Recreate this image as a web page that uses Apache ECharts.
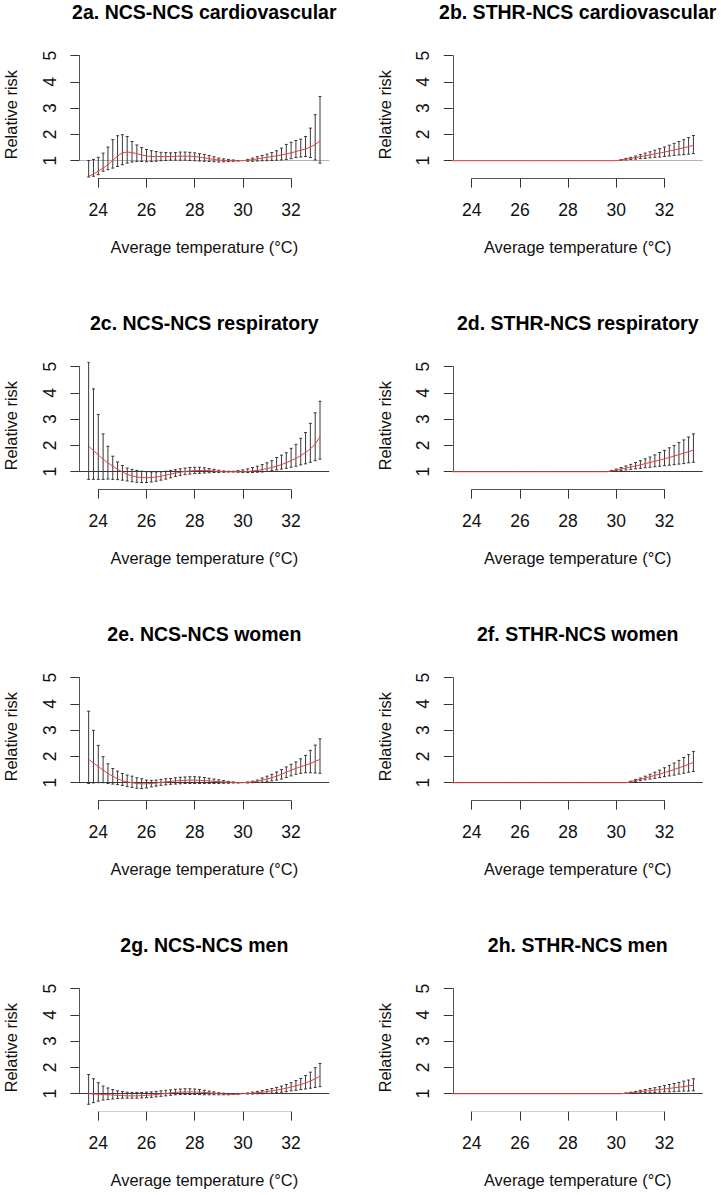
<!DOCTYPE html>
<html>
<head>
<meta charset="utf-8">
<script src="https://cdn.jsdelivr.net/npm/echarts@6/dist/echarts.min.js"></script>
<style>
html,body{margin:0;padding:0;background:#fff;}
#chart{width:721px;height:1195px;}
</style>
</head>
<body>
<div id="chart"></div>
<script>
// Temperatures (°C) at which the relative risks were evaluated
const temps = [23.2,23.4,23.6,23.8,24.0,24.2,24.4,24.6,24.8,25.0,25.2,25.4,25.6,25.8,26.0,26.2,26.4,26.6,26.8,27.0,27.2,27.4,27.6,27.8,28.0,28.2,28.4,28.6,28.8,29.0,29.2,29.4,29.6,29.8,30.0,30.2,30.4,30.6,30.8,31.0,31.2,31.4,31.6,31.8,32.0,32.2,32.4,32.6,32.8,33.0,33.2];
const xTicks = [24, 26, 28, 30, 32];
const yTicks = [1, 2, 3, 4, 5];

// 2a NCS-NCS cardiovascular
const est2a = [null,null,
 0.40,0.50,0.60,0.72,0.85,1.02,1.18,1.30,1.33,1.31,
 1.27,1.22,1.18,1.16,1.16,1.16,1.16,1.16,1.17,1.17,
 1.17,1.17,1.16,1.14,1.11,1.08,1.05,1.03,1.01,1.00,
 1.00,1.00,1.00,1.02,1.04,1.07,1.10,1.13,1.16,1.19,
 1.22,1.26,1.30,1.35,1.40,1.45,1.52,1.62,1.75];
const hi2a = [null,null,
 1.01,1.05,1.13,1.29,1.52,1.80,1.95,1.99,1.92,1.73,
 1.60,1.50,1.43,1.38,1.35,1.32,1.31,1.30,1.31,1.33,
 1.33,1.32,1.30,1.27,1.24,1.20,1.15,1.10,1.07,1.05,
 1.03,1.01,1.00,1.05,1.10,1.15,1.20,1.25,1.31,1.38,
 1.48,1.62,1.70,1.77,1.82,1.92,2.24,2.75,3.44];
const lo2a = [null,null,
 0.38,0.41,0.47,0.60,0.66,0.72,0.78,0.85,0.91,0.95,
 0.97,0.97,0.96,0.97,0.98,1.00,1.01,1.02,1.02,1.02,
 1.02,1.01,1.00,0.99,0.98,0.97,0.96,0.95,0.96,0.97,
 0.98,0.99,1.00,0.98,0.98,0.99,1.00,1.00,1.01,1.02,
 1.03,1.05,1.08,1.12,1.14,1.16,1.12,1.03,0.91];

// 2b STHR-NCS cardiovascular
const est2b = [1,1,1,1,1,1,1,1,1,1,1,1,1,1,1,1,1,1,1,1,1,1,1,1,1,1,1,1,1,1,1,1,1,1,1,
 1.03,1.06,1.09,1.12,1.15,1.19,1.22,1.26,1.29,1.33,1.37,1.41,1.45,1.49,1.54,1.58];
const hi2b = [1,1,1,1,1,1,1,1,1,1,1,1,1,1,1,1,1,1,1,1,1,1,1,1,1,1,1,1,1,1,1,1,1,1,1,
 1.04,1.09,1.13,1.18,1.23,1.29,1.34,1.40,1.46,1.52,1.59,1.66,1.73,1.80,1.88,1.96];
const lo2b = [1,1,1,1,1,1,1,1,1,1,1,1,1,1,1,1,1,1,1,1,1,1,1,1,1,1,1,1,1,1,1,1,1,1,1,
 1.02,1.03,1.05,1.06,1.08,1.09,1.11,1.13,1.14,1.16,1.18,1.20,1.22,1.23,1.25,1.27];

// 2c NCS-NCS respiratory
const est2c = [null,null,
 1.97,1.80,1.64,1.48,1.34,1.21,1.09,0.99,0.90,0.84,
 0.80,0.78,0.77,0.78,0.80,0.83,0.87,0.91,0.95,0.98,
 1.01,1.03,1.04,1.05,1.05,1.04,1.03,1.01,1.00,1.00,
 1.00,1.00,1.00,1.01,1.03,1.05,1.08,1.12,1.16,1.21,
 1.27,1.34,1.42,1.51,1.61,1.73,1.87,2.05,2.33];
const hi2c = [null,null,
 5.17,4.15,3.18,2.44,1.97,1.59,1.37,1.24,1.14,1.09,
 1.05,1.02,1.00,0.99,0.99,1.00,1.02,1.05,1.08,1.11,
 1.14,1.16,1.17,1.17,1.15,1.12,1.09,1.06,1.03,1.02,
 1.02,1.04,1.07,1.11,1.16,1.21,1.27,1.34,1.42,1.54,
 1.63,1.72,1.89,2.04,2.27,2.49,2.84,3.24,3.68];
const lo2c = [null,null,
 0.71,0.71,0.71,0.71,0.72,0.71,0.70,0.68,0.65,0.62,
 0.60,0.59,0.59,0.61,0.64,0.68,0.72,0.77,0.82,0.86,
 0.89,0.91,0.93,0.94,0.95,0.96,0.97,0.97,0.98,0.99,
 0.99,0.98,0.97,0.97,0.97,0.98,0.99,1.01,1.04,1.07,
 1.10,1.13,1.17,1.21,1.26,1.30,1.36,1.42,1.48];

// 2d STHR-NCS respiratory
const est2d = [1,1,1,1,1,1,1,1,1,1,1,1,1,1,1,1,1,1,1,1,1,1,1,1,1,1,1,1,1,1,1,1,1,
 1.03,1.07,1.11,1.14,1.18,1.22,1.26,1.31,1.35,1.40,1.44,1.49,1.54,1.60,1.65,1.71,1.76,1.82];
const hi2d = [1,1,1,1,1,1,1,1,1,1,1,1,1,1,1,1,1,1,1,1,1,1,1,1,1,1,1,1,1,1,1,1,1,
 1.05,1.10,1.16,1.22,1.28,1.35,1.42,1.49,1.56,1.64,1.73,1.81,1.91,2.00,2.11,2.21,2.32,2.44];
const lo2d = [1,1,1,1,1,1,1,1,1,1,1,1,1,1,1,1,1,1,1,1,1,1,1,1,1,1,1,1,1,1,1,1,1,
 1.02,1.04,1.05,1.07,1.09,1.11,1.13,1.15,1.17,1.19,1.21,1.23,1.25,1.27,1.29,1.31,1.34,1.36];

// 2e NCS-NCS women
const est2e = [null,null,
 1.89,1.75,1.61,1.48,1.35,1.25,1.15,1.08,1.03,1.00,
 0.97,0.96,0.96,0.97,0.99,1.01,1.03,1.05,1.07,1.08,
 1.09,1.10,1.10,1.09,1.08,1.07,1.05,1.04,1.03,1.02,
 1.01,1.00,1.00,1.01,1.03,1.06,1.10,1.14,1.19,1.25,
 1.32,1.40,1.48,1.55,1.61,1.67,1.73,1.81,1.89];
const hi2e = [null,null,
 3.72,2.99,2.42,1.99,1.72,1.54,1.44,1.35,1.29,1.25,
 1.19,1.15,1.10,1.09,1.10,1.13,1.15,1.16,1.19,1.21,
 1.22,1.23,1.23,1.22,1.20,1.17,1.14,1.11,1.08,1.05,
 1.03,1.01,1.00,1.03,1.06,1.10,1.18,1.25,1.32,1.41,
 1.50,1.60,1.70,1.79,1.91,2.04,2.23,2.43,2.67];
const lo2e = [null,null,
 0.97,0.99,1.00,1.00,0.97,0.95,0.93,0.90,0.85,0.82,
 0.79,0.78,0.80,0.84,0.87,0.90,0.92,0.94,0.95,0.96,
 0.97,0.97,0.97,0.97,0.97,0.97,0.97,0.97,0.98,0.98,
 0.99,0.99,1.00,0.99,1.00,1.01,1.02,1.04,1.07,1.10,
 1.14,1.20,1.26,1.32,1.36,1.38,1.38,1.37,1.36];

// 2f STHR-NCS women
const est2f = [1,1,1,1,1,1,1,1,1,1,1,1,1,1,1,1,1,1,1,1,1,1,1,1,1,1,1,1,1,1,1,1,1,1,1,1,1,
 1.04,1.09,1.13,1.18,1.23,1.28,1.33,1.39,1.44,1.50,1.57,1.63,1.70,1.77];
const hi2f = [1,1,1,1,1,1,1,1,1,1,1,1,1,1,1,1,1,1,1,1,1,1,1,1,1,1,1,1,1,1,1,1,1,1,1,1,1,
 1.06,1.12,1.18,1.25,1.32,1.40,1.48,1.57,1.66,1.75,1.85,1.96,2.07,2.19];
const lo2f = [1,1,1,1,1,1,1,1,1,1,1,1,1,1,1,1,1,1,1,1,1,1,1,1,1,1,1,1,1,1,1,1,1,1,1,1,1,
 1.03,1.05,1.08,1.11,1.14,1.17,1.20,1.23,1.26,1.29,1.33,1.36,1.40,1.43];

// 2g NCS-NCS men
const est2g = [null,null,
 1.00,0.99,0.98,0.97,0.96,0.95,0.94,0.93,0.92,0.92,
 0.92,0.93,0.94,0.95,0.97,0.99,1.01,1.03,1.05,1.06,
 1.07,1.07,1.07,1.06,1.05,1.03,1.02,1.00,0.99,0.98,
 0.98,0.99,1.00,1.01,1.02,1.04,1.06,1.08,1.11,1.14,
 1.17,1.21,1.26,1.30,1.35,1.41,1.48,1.57,1.67];
const hi2g = [null,null,
 1.73,1.57,1.42,1.29,1.22,1.16,1.11,1.08,1.06,1.05,
 1.05,1.05,1.06,1.07,1.09,1.11,1.13,1.15,1.17,1.18,
 1.19,1.19,1.18,1.16,1.13,1.10,1.07,1.04,1.02,1.01,
 1.00,1.00,1.00,1.03,1.06,1.09,1.12,1.16,1.20,1.24,
 1.29,1.35,1.42,1.50,1.58,1.69,1.82,1.99,2.15];
const lo2g = [null,null,
 0.60,0.66,0.72,0.76,0.78,0.80,0.82,0.83,0.83,0.83,
 0.83,0.84,0.85,0.86,0.88,0.90,0.92,0.94,0.96,0.97,
 0.97,0.97,0.97,0.97,0.96,0.96,0.96,0.96,0.96,0.96,
 0.97,0.98,1.00,0.99,0.99,1.00,1.00,1.01,1.02,1.04,
 1.06,1.08,1.11,1.13,1.16,1.18,1.21,1.24,1.27];

// 2h STHR-NCS men
const est2h = [1,1,1,1,1,1,1,1,1,1,1,1,1,1,1,1,1,1,1,1,1,1,1,1,1,1,1,1,1,1,1,1,1,1,1,1,
 1.02,1.04,1.06,1.08,1.10,1.12,1.14,1.16,1.18,1.20,1.23,1.25,1.27,1.30,1.32];
const hi2h = [1,1,1,1,1,1,1,1,1,1,1,1,1,1,1,1,1,1,1,1,1,1,1,1,1,1,1,1,1,1,1,1,1,1,1,1,
 1.03,1.06,1.09,1.13,1.16,1.20,1.23,1.27,1.31,1.35,1.39,1.43,1.48,1.52,1.57];
const lo2h = [1,1,1,1,1,1,1,1,1,1,1,1,1,1,1,1,1,1,1,1,1,1,1,1,1,1,1,1,1,1,1,1,1,1,1,1,
 1.01,1.01,1.02,1.03,1.04,1.04,1.05,1.06,1.07,1.07,1.08,1.09,1.10,1.10,1.11];

const titles = ['2a. NCS-NCS cardiovascular','2b. STHR-NCS cardiovascular',
 '2c. NCS-NCS respiratory','2d. STHR-NCS respiratory',
 '2e. NCS-NCS women','2f. STHR-NCS women',
 '2g. NCS-NCS men','2h. STHR-NCS men'];
const xName = 'Average temperature (°C)';
const yName = 'Relative risk';

// ---------- layout ----------
const FONT = '"Liberation Sans", Arial, Helvetica, sans-serif';
const colLeft = [79.4, 452.8];
const rowTop = [50.8, 361.8, 672.8, 983.8];
const pxPerDeg = 24.1, pxPerRR = 26.3;
const xMin = 23.216, xMax = 33.584, yMin = 0.32, yMax = 5.18;
const gW = (xMax - xMin) * pxPerDeg, gH = (yMax - yMin) * pxPerRR;
const RED = '#e8423c', BAR = '#383838';

const panels = [
 {est: est2a, lo: lo2a, hi: hi2a},
 {est: est2b, lo: lo2b, hi: hi2b},
 {est: est2c, lo: lo2c, hi: hi2c},
 {est: est2d, lo: lo2d, hi: hi2d},
 {est: est2e, lo: lo2e, hi: hi2e},
 {est: est2f, lo: lo2f, hi: hi2f},
 {est: est2g, lo: lo2g, hi: hi2g},
 {est: est2h, lo: lo2h, hi: hi2h}
];

const grid = [], xAxis = [], yAxis = [], series = [], title = [];
const hidden = {axisLine:{show:false}, axisTick:{show:false}, axisLabel:{show:false}, splitLine:{show:false}};

panels.forEach(function (p, n) {
  const col = n % 2, row = Math.floor(n / 2);
  const L = colLeft[col], T = rowTop[row];
  const hCol = row === 0 ? '#b4b4b4' : '#3a3a3a';
  const xLineCol = row === 3 ? '#d2d2d2' : '#555555';
  const g = grid.length;
  grid.push({left: L, top: T, width: gW, height: gH, outerBoundsMode: 'none'});
  grid.push({left: L + (xTicks[0] - xMin) * pxPerDeg, top: T, width: (xTicks[xTicks.length-1] - xTicks[0]) * pxPerDeg, height: gH, outerBoundsMode: 'none'});
  grid.push({left: L, top: T + (yMax - yTicks[yTicks.length-1]) * pxPerRR, width: gW, height: (yTicks[yTicks.length-1] - yTicks[0]) * pxPerRR, outerBoundsMode: 'none'});

  // data axes (hidden, carry the axis titles)
  xAxis.push(Object.assign({type:'value', gridIndex:g, min:xMin, max:xMax,
    name:xName, nameLocation:'middle', nameGap:60.5,
    nameTextStyle:{fontFamily:FONT, fontSize:16.4, color:'#111'}}, hidden));
  yAxis.push(Object.assign({type:'value', gridIndex:g, min:yMin, max:yMax,
    name:yName, nameLocation:'middle', nameRotate:90, nameGap:60.2,
    nameTextStyle:{fontFamily:FONT, fontSize:16.4, color:'#111'}}, hidden));
  // visible x axis (24..32)
  xAxis.push({type:'value', gridIndex:g+1, min:xTicks[0], max:xTicks[xTicks.length-1], interval:2,
    axisLine:{show:true, lineStyle:{color:xLineCol, width:1}},
    axisTick:{show:true, inside:false, length:9, lineStyle:{color:'#333', width:1}},
    axisLabel:{show:true, margin:22, fontFamily:FONT, fontSize:17.5, color:'#111'},
    splitLine:{show:false}});
  yAxis.push(Object.assign({type:'value', gridIndex:g+1, min:0, max:1, show:false}, hidden));
  // visible y axis (1..5)
  xAxis.push(Object.assign({type:'value', gridIndex:g+2, min:0, max:1, show:false}, hidden));
  yAxis.push({type:'value', gridIndex:g+2, min:yTicks[0], max:yTicks[yTicks.length-1], interval:1,
    axisLine:{show:true, lineStyle:{color:'#555', width:1}},
    axisTick:{show:true, inside:false, length:9, lineStyle:{color:'#333', width:1}},
    axisLabel:{show:true, rotate:90, margin:20.5, fontFamily:FONT, fontSize:17.5, color:'#111'},
    splitLine:{show:false}});

  const barData = temps.map(function (t, i) { return [t, p.lo[i], p.hi[i]]; });
  const lineData = temps.map(function (t, i) { return [t, p.est[i]]; });

  series.push({
    type:'custom', xAxisIndex:g, yAxisIndex:g, data:barData, clip:true, z:3, silent:true,
    encode:{x:0, y:[1,2]},
    renderItem: function (params, api) {
      const x = api.value(0), lo = api.value(1), hi = api.value(2);
      if (!(hi - lo > 1e-9)) return null;
      const a = api.coord([x, hi]), b = api.coord([x, lo]);
      const cw = 1.5;
      const st = {stroke: BAR, lineWidth: 1, fill: null};
      return {type:'group', children:[
        {type:'line', shape:{x1:a[0], y1:a[1], x2:b[0], y2:b[1]}, style:st},
        {type:'line', shape:{x1:a[0]-cw, y1:a[1], x2:a[0]+cw, y2:a[1]}, style:st},
        {type:'line', shape:{x1:b[0]-cw, y1:b[1], x2:b[0]+cw, y2:b[1]}, style:st}
      ]};
    },
    markLine:{silent:true, symbol:'none', animation:false, label:{show:false}, z:1,
      lineStyle:{color:hCol, width:1, type:'solid'}, emphasis:{disabled:true},
      data:[{yAxis:1}]}
  });
  series.push({
    type:'line', xAxisIndex:g, yAxisIndex:g, data:lineData, showSymbol:false, symbol:'none',
    connectNulls:false, clip:true, z:10, silent:true,
    lineStyle:{color:RED, width:1}
  });

  title.push({text:titles[n], left:L + gW/2, top:T - 38.8, textAlign:'center', textVerticalAlign:'middle',
    padding:0, textStyle:{fontFamily:FONT, fontSize:19.5, fontWeight:'bold', color:'#000'}});
});

const chart = echarts.init(document.getElementById('chart'), null, {renderer:'svg', width:721, height:1195});
chart.setOption({
  animation:false,
  backgroundColor:'#fff',
  title:title, grid:grid, xAxis:xAxis, yAxis:yAxis, series:series
});
</script>
</body>
</html>
